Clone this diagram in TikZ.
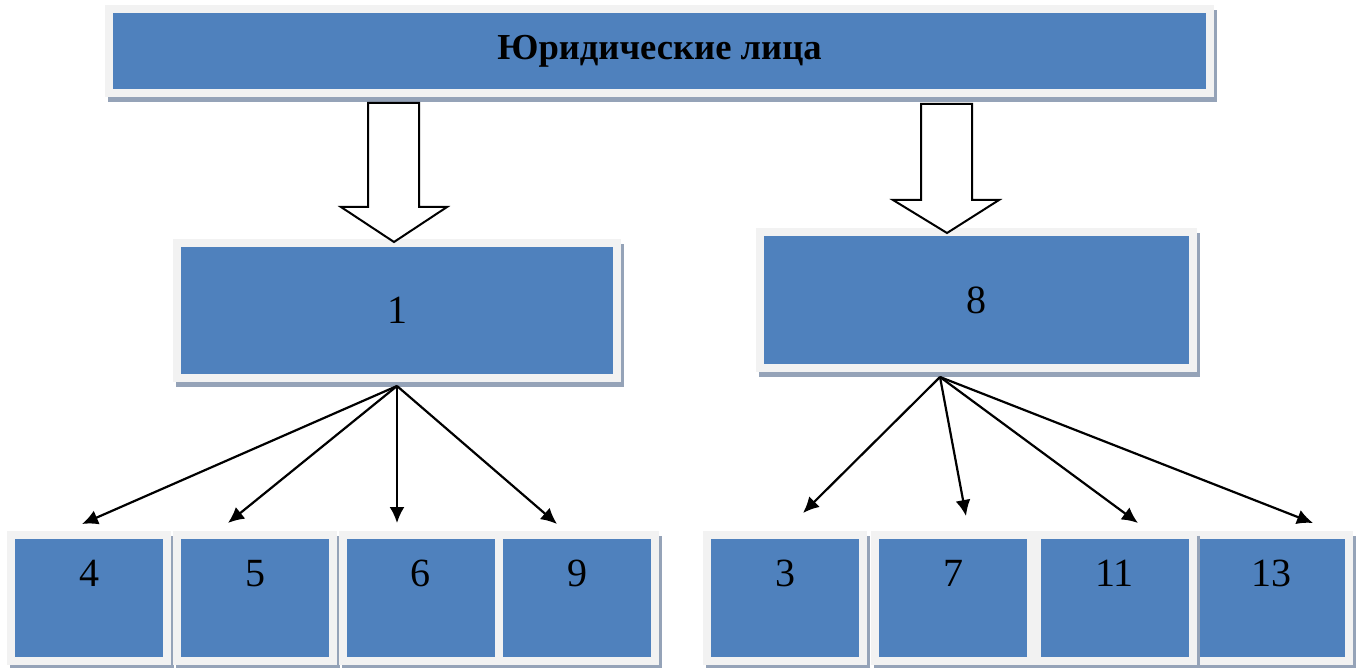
\documentclass[tikz,border=0pt]{standalone}
\usepackage{fontspec}
\setmainfont{Liberation Serif}
\usetikzlibrary{positioning, arrows.meta, shadows}

\definecolor{boxblue}{HTML}{4F81BD}
\definecolor{framegray}{HTML}{F2F2F2}
\definecolor{shadowblue}{HTML}{95A3B8}

\begin{document}
\begin{tikzpicture}[x=0.5pt, y=-0.5pt,
      box/.style={rectangle, fill=boxblue, draw=framegray, line width=4pt, inner sep=0pt,
        drop shadow={shadow xshift=1.5pt, shadow yshift=-2.5pt, fill=shadowblue, draw=shadowblue, line width=4pt, opacity=1}},
      head/.style={box, minimum width=550.5pt, minimum height=42pt, font=\fontsize{18.3}{20}\selectfont\bfseries},
      grp/.style={box, font=\fontsize{20}{22}\selectfont},
      leaf/.style={box, minimum width=78pt, minimum height=63pt, text depth=25pt, font=\fontsize{20}{22}\selectfont},
      hollow/.style={draw=black, fill=white, line width=1pt, line join=miter},
      arr/.style={-{Latex[length=8pt, width=7.5pt]}, line width=1.1pt}]
      \useasboundingbox (0,0) rectangle (1363,668);

      \node[head] (legal) at (659.5,51) {Юридические лица};
      \node[grp, minimum width=220pt, minimum height=67.5pt] (box1) at (397,310.5) {1};
      \node[grp, minimum width=216.5pt, minimum height=68pt] (box8) at (976.5,300) {8};

      \node[leaf] (b4) at (89,598) {4};
      \node[leaf] (b5) at (255,598) {5};
      \node[leaf] (b6) at (420.5,598) {6};
      \node[leaf] (b9) at (577,598) {9};
      \node[leaf] (b3) at (785,598) {3};
      \node[leaf] (b7) at (953,598) {7};
      \node[leaf] (b13) at (1271,598) {13};
      \node[leaf] (b11) at (1114.5,598) {11};

      % hollow arrows under the title
      \draw[hollow] ([shift={(-3,3)}]box1.north) -- ++(-53,-35) -- ++(27,0) -- ++(0,-104)
        -- ++(51,0) -- ++(0,104) -- ++(28,0) -- cycle;
      \draw[hollow] ([shift={(-29.5,5)}]box8.north) -- ++(-54,-33) -- ++(28,0) -- ++(0,-96)
        -- ++(51,0) -- ++(0,96) -- ++(27,0) -- cycle;

      \draw[arr] ([shift={(0,4)}]box1.south) -- ([shift={(-7,-7)}]b4.north);
      \draw[arr] ([shift={(0,4)}]box1.south) -- ([shift={(-27,-8)}]b5.north);
      \draw[arr] ([shift={(0,4)}]box1.south) -- ([shift={(-23.5,-8)}]b6.north);
      \draw[arr] ([shift={(0,4)}]box1.south) -- ([shift={(-20,-7)}]b9.north);

      \draw[arr] ([shift={(-36.5,5)}]box8.south) -- ([shift={(18,-18)}]b3.north);
      \draw[arr] ([shift={(-36.5,5)}]box8.south) -- ([shift={(13,-15)}]b7.north);
      \draw[arr] ([shift={(-36.5,5)}]box8.south) -- ([shift={(23.5,-8)}]b11.north);
      \draw[arr] ([shift={(-36.5,5)}]box8.south) -- ([shift={(42,-8)}]b13.north);
\end{tikzpicture}
\end{document}
